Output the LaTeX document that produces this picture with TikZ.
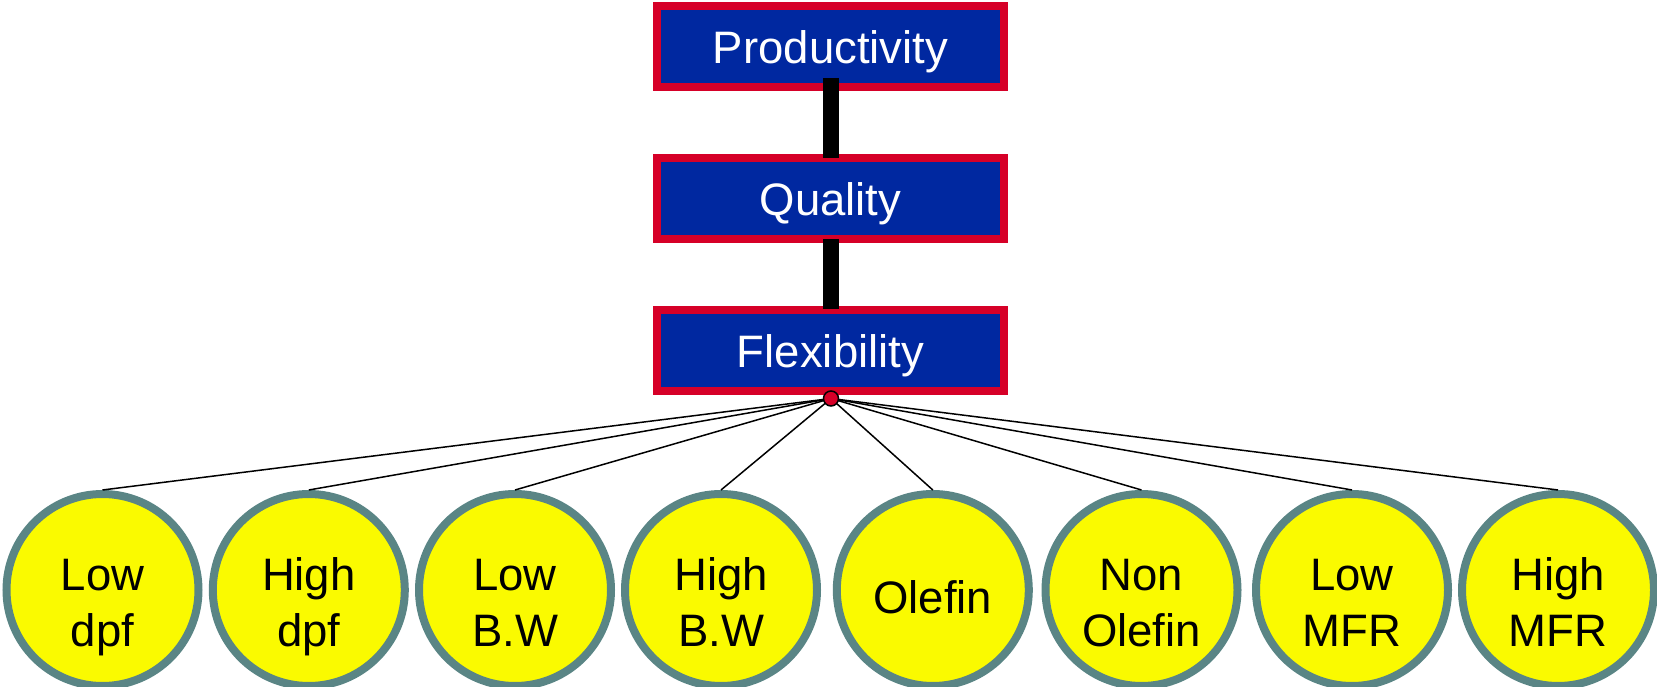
\documentclass[tikz,border=0pt]{standalone}
\usepackage{fontspec}
\setmainfont{Liberation Sans}
\usetikzlibrary{calc}
\definecolor{boxblue}{RGB}{0,40,160}
\definecolor{boxred}{RGB}{214,0,40}
\definecolor{leafyellow}{RGB}{250,250,0}
\definecolor{leafedge}{RGB}{90,133,133}
\tikzset{
  topbox/.style={draw=boxred, fill=boxblue, line width=8pt, minimum width=347pt, minimum height=81pt,
    inner sep=0pt, text=white, font=\fontsize{45.5}{56.5}\selectfont, text height=40pt, text depth=6pt},
  conn/.style={line width=16pt, black},
  spoke/.style={line width=1.5pt, black},
  hubdot/.style={circle, fill=boxred, draw=black, line width=1.5pt, minimum size=15pt, inner sep=0pt},
  leaf/.style={circle, draw=leafedge, fill=leafyellow, line width=8pt, minimum size=192pt, inner sep=0pt},
  leaftext/.style={align=center, inner sep=0pt, font=\fontsize{45.5}{56.5}\selectfont, text=black}
}
\begin{document}
\begin{tikzpicture}[x=1pt,y=-1pt]
\useasboundingbox (0,0) rectangle (1657,687);
% boxes
\node[topbox] (prod) at (830.5,46.5) {Productivity};
\node[topbox] (qual) at (830.5,198.5) {Quality};
\node[topbox] (flex) at (830.5,350.5) {Flexibility};
\draw[conn] ($(prod.south)+(0.5,-13)$) -- ($(qual.north)+(0.5,4)$);
\draw[conn] ($(qual.south)+(0.5,-4)$) -- ($(flex.north)+(0.5,3)$);
% leaves
\node[leaf] (c1) at (102.5,590) {};
\node[leaf] (c2) at (308.8,590) {};
\node[leaf] (c3) at (515,590) {};
\node[leaf] (c4) at (721,590) {};
\node[leaf] (c5) at (932.8,590) {};
\node[leaf] (c6) at (1141.5,590) {};
\node[leaf] (c7) at (1352,590) {};
\node[leaf] (c8) at (1558,590) {};
\node[leaftext] (t1) at (102.5,607) {\strut Low\\\strut dpf};
\node[leaftext] (t2) at (308.8,607) {\strut High\\\strut dpf};
\node[leaftext] (t3) at (515,607) {\strut Low\\\strut B.W};
\node[leaftext] (t4) at (721,607) {\strut High\\\strut B.W};
\node[leaftext] (t5) at (932.8,602.5) {\strut Olefin};
\node[leaftext] (t6) at (1141.5,607) {\strut Non\\\strut Olefin};
\node[leaftext] (t7) at (1352,607) {\strut Low\\\strut MFR};
\node[leaftext] (t8) at (1558,607) {\strut High\\\strut MFR};
% spokes
\coordinate (hub) at (831,398.5);
\foreach \c in {c1,c2,c3,c4,c5,c6,c7,c8}{
  \draw[spoke] (hub) -- (\c.north);
}
\node[hubdot] (dot) at (hub) {};
\end{tikzpicture}
\end{document}
